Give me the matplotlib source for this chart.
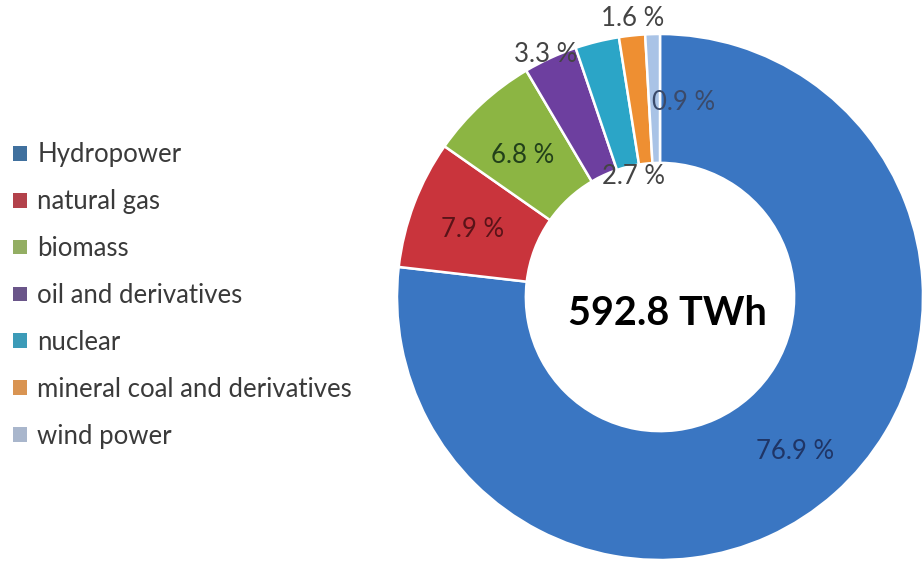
import matplotlib.pyplot as plt
import numpy as np
from matplotlib.patches import Patch

categories = ["Hydropower", "natural gas", "biomass", "oil and derivatives",
              "nuclear", "mineral coal and derivatives", "wind power"]
values = [76.9, 7.9, 6.8, 3.3, 2.7, 1.6, 0.9]
labels = ["76.9 %", "7.9 %", "6.8 %", "3.3 %", "2.7 %", "1.6 %", "0.9 %"]
total_label = "592.8 TWh"

wedge_colors = ["#3a76c2", "#c9343c", "#8cb543", "#6d3f9f", "#2ba5c7", "#ee8f32", "#a9c3e6"]
legend_colors = ["#40709e", "#b3424b", "#93ae63", "#6a5589", "#3c9bb8", "#d99452", "#a9b6cc"]
label_colors = ["#1f3566", "#5a1318", "#22401a", "#444444", "#444444", "#444444", "#3a4a6a"]
# (radius, angle offset in degrees) for each label
label_pos = [(0.78, -0.4), (0.757, 1), (0.75, 1.5), (1.02, 0.5), (0.47, -1.5), (1.065, -0.5), (0.745, -8.6)]

plt.rcParams['font.family'] = ['Lato', 'DejaVu Sans']

W, H = 924, 571
fig = plt.figure(figsize=(W / 100, H / 100), dpi=100)
ax = fig.add_axes([0, 0, 1, 1])
cx, cy, R = 660, 297, 263


def set_view():
    ax.set_xlim(-cx / R, (W - cx) / R)
    ax.set_ylim(-(H - cy) / R, cy / R)
    ax.set_aspect('auto')
    ax.axis('off')


width = 0.49
wedges, _ = ax.pie(values, colors=wedge_colors, startangle=90, counterclock=False,
                   radius=1.0, wedgeprops=dict(width=width, edgecolor='white', linewidth=1.8),
                   frame=False)
set_view()

for w, lab, col, (r, off) in zip(wedges, labels, label_colors, label_pos):
    mid = np.deg2rad((w.theta1 + w.theta2) / 2 + off)
    ax.text(r * np.cos(mid), r * np.sin(mid), lab, ha='center', va='center',
            fontsize=18.5, color=col)

ax.text(7 / R, -28 / R, total_label, ha='center', va='baseline', fontsize=28.5,
        fontweight='bold', color='black')

handles = [Patch(facecolor=c, edgecolor='none') for c in legend_colors]
fig.legend(handles, categories, loc='center left', bbox_to_anchor=(13 / W, 0.4825),
           frameon=False, fontsize=18.5, handlelength=0.55, handleheight=0.5,
           handletextpad=0.39, labelspacing=0.85, borderaxespad=0, borderpad=0,
           labelcolor='#3a3a3a')

fig.savefig("out.png", dpi=100)
